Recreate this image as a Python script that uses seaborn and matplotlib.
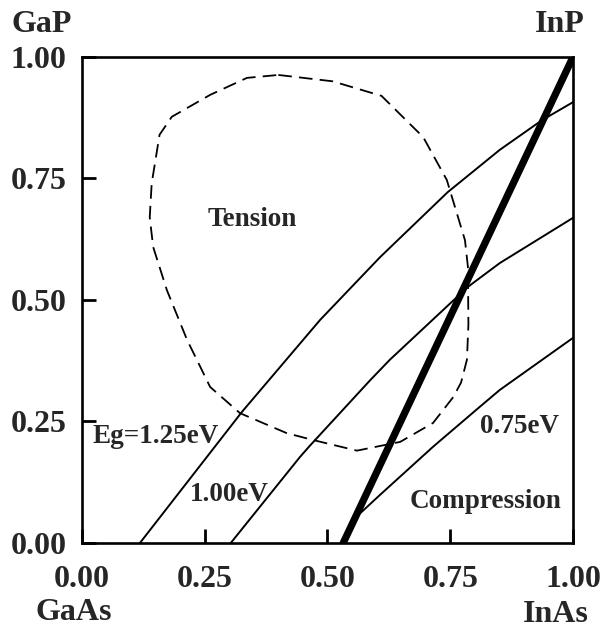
import matplotlib
matplotlib.use("Agg")
import matplotlib.pyplot as plt
import seaborn as sns

# band gap contours (x = InAs fraction, y = GaP fraction)
eg125_x = [0.118, 0.326, 0.485, 0.607, 0.745, 0.851, 0.937, 1.0]
eg125_y = [0.0, 0.27, 0.459, 0.588, 0.722, 0.809, 0.87, 0.907]
eg100_x = [0.303, 0.444, 0.464, 0.587, 0.627, 0.786, 0.851, 1.0]
eg100_y = [0.0, 0.177, 0.20, 0.335, 0.377, 0.527, 0.576, 0.669]
eg075_x = [0.56, 0.607, 0.715, 0.81, 0.851, 1.0]
eg075_y = [0.055, 0.099, 0.198, 0.28, 0.315, 0.422]

# lattice matched to InP
inp_x = [0.532, 1.0]
inp_y = [0.0, 1.0]

# dashed boundary (closed loop)
loop_x = [0.40, 0.51, 0.61, 0.695, 0.743, 0.78, 0.786, 0.787, 0.784, 0.772,
          0.756, 0.715, 0.648, 0.56, 0.47, 0.417, 0.322, 0.261, 0.214, 0.173,
          0.145, 0.138, 0.142, 0.158, 0.183, 0.261, 0.336, 0.40]
loop_y = [0.963, 0.95, 0.92, 0.835, 0.747, 0.623, 0.568, 0.45, 0.377, 0.33,
          0.30, 0.247, 0.208, 0.19, 0.212, 0.226, 0.267, 0.321, 0.418, 0.52,
          0.609, 0.67, 0.74, 0.84, 0.877, 0.922, 0.957, 0.963]

ticks = [0.0, 0.25, 0.5, 0.75, 1.0]
tick_labels = ["0.00", "0.25", "0.50", "0.75", "1.00"]

sns.set_style("ticks")
plt.rcParams['font.family'] = ['Liberation Serif', 'DejaVu Serif']
plt.rcParams['font.weight'] = 'bold'

fig, ax = plt.subplots(figsize=(6.01, 6.33), dpi=100)
fig.subplots_adjust(left=0.1364, right=0.9534, top=0.910, bottom=0.1422)

for xs, ys in [(eg125_x, eg125_y), (eg100_x, eg100_y), (eg075_x, eg075_y)]:
    sns.lineplot(x=xs, y=ys, ax=ax, color='black', linewidth=1.4, sort=False, estimator=None)
sns.lineplot(x=inp_x, y=inp_y, ax=ax, color='black', linewidth=5.2, sort=False, estimator=None)
sns.lineplot(x=loop_x, y=loop_y, ax=ax, color='black', linewidth=1.3, sort=False,
             estimator=None)
ax.lines[-1].set_dashes((7.5, 4))

ax.set_xlim(0, 1)
ax.set_ylim(0, 1)
ax.set_xticks(ticks)
ax.set_xticklabels(tick_labels)
ax.set_yticks(ticks)
ax.set_yticklabels(tick_labels)
ax.tick_params(direction='in', length=10, width=2, labelsize=23, color='black')
ax.tick_params(axis='x', pad=16)
ax.tick_params(axis='y', pad=11)
for s in ax.spines.values():
    s.set_visible(True)
    s.set_linewidth(1.9)
    s.set_color('black')

# labels inside the plot
fs_in = 19.5
ax.text(0.346, 0.665, "Tension", fontsize=fs_in, ha='center', va='center')
ax.text(0.151, 0.22, "Eg=1.25eV", fontsize=fs_in, ha='center', va='center')
ax.text(0.301, 0.10, "1.00eV", fontsize=fs_in, ha='center', va='center')
ax.text(0.892, 0.24, "0.75eV", fontsize=fs_in, ha='center', va='center')
ax.text(0.821, 0.086, "Compression", fontsize=fs_in, ha='center', va='center')

# corner compounds
fig.text(42 / 601, 1 - 25 / 633, "GaP", fontsize=23, ha='center', va='center')
fig.text(560 / 601, 1 - 25 / 633, "InP", fontsize=23, ha='center', va='center')
fig.text(74 / 601, 1 - 612 / 633, "GaAs", fontsize=23, ha='center', va='center')
fig.text(556 / 601, 1 - 615 / 633, "InAs", fontsize=23, ha='center', va='center')

fig.savefig("out.png", dpi=100)
